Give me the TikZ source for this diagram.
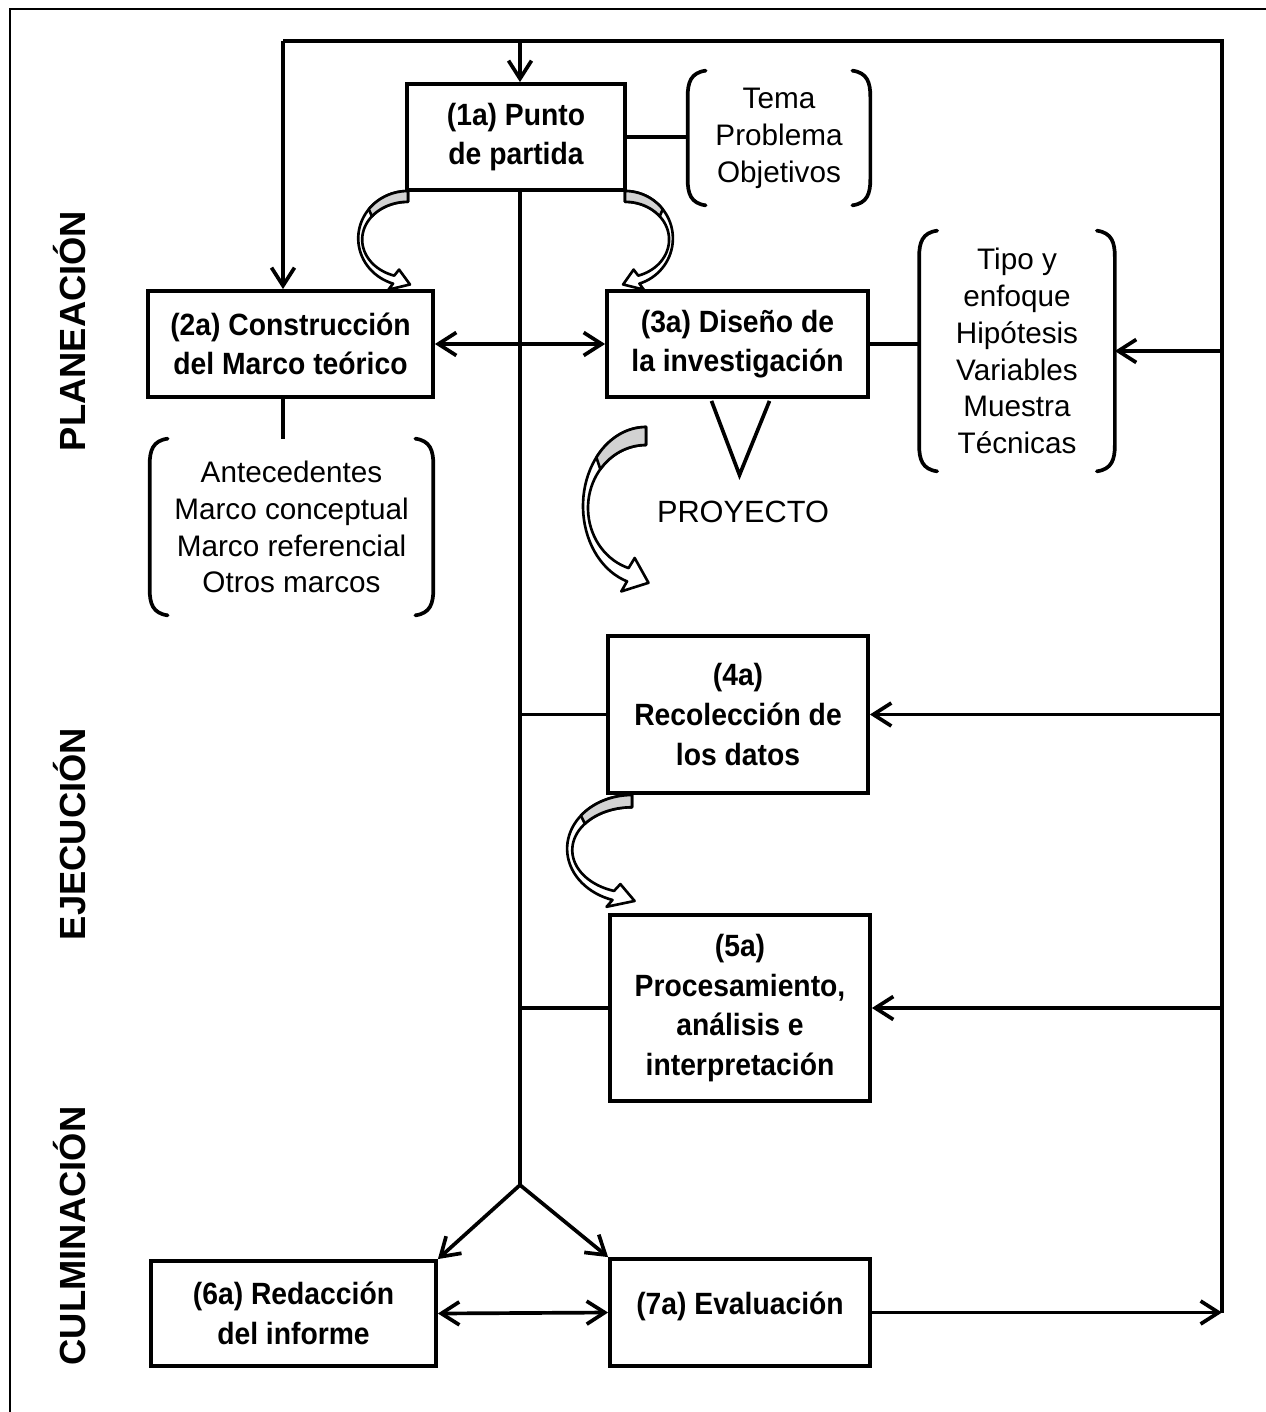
\documentclass[tikz,border=0pt]{standalone}
\usepackage{fontspec}
\setmainfont{Liberation Sans}
\newfontfamily\boxfont[FakeStretch=0.92]{Liberation Sans}
\usetikzlibrary{arrows.meta,calc}

\newcommand\ribbon[4]{%
\begin{scope}[shift={(#1,#2)},xscale=#3,yscale=#4]
\filldraw[fill=white,line width=1.5pt,line join=round] (0,0) -- plot[domain=270:107.5,samples=40,variable=\t] ({63*cos(\t)},{79+79*sin(\t)}) -- (-24.7,164.4) -- (2.5,155.8) -- (-11.3,131) -- plot[domain=107.5:270,samples=40,variable=\t] ({58*cos(\t)},{81+63*sin(\t)}) -- cycle;
\filldraw[fill=gray!35,line width=1.5pt,line join=round] plot[domain=270:218,samples=20,variable=\t] ({63*cos(\t)},{79+79*sin(\t)}) -- plot[domain=218:270,samples=20,variable=\t] ({58*cos(\t)},{81+63*sin(\t)}) -- cycle;
\end{scope}}

\newcommand\drawparens[1]{%
\draw[paren] ($(#1.north west)+(18,0)$) .. controls ($(#1.north west)+(3,2)$) and ($(#1.north west)+(0,12)$) .. ($(#1.north west)+(0,26)$) -- ($(#1.south west)+(0,-26)$) .. controls ($(#1.south west)+(0,-12)$) and ($(#1.south west)+(3,-2)$) .. ($(#1.south west)+(18,0)$);
\draw[paren] ($(#1.north east)+(-18,0)$) .. controls ($(#1.north east)+(-3,2)$) and ($(#1.north east)+(0,12)$) .. ($(#1.north east)+(0,26)$) -- ($(#1.south east)+(0,-26)$) .. controls ($(#1.south east)+(0,-12)$) and ($(#1.south east)+(-3,-2)$) .. ($(#1.south east)+(-18,0)$);}

\tikzset{
  stepbox/.style={draw,line width=2.2pt,inner sep=0pt,align=center,fill=white,
    font={\boxfont\bfseries\fontsize{17.5pt}{22.5pt}\selectfont}},
  grouptext/.style={inner sep=0pt,align=center,
    font={\fontsize{16.9pt}{21pt}\selectfont}},
  paren/.style={line width=2.1pt,line cap=round},
  conn/.style={line width=2.1pt},
  arr/.style={conn,-{Straight Barb[length=3.6mm,width=4.6mm,line width=2.1pt]}},
  darr/.style={conn,{Straight Barb[length=3.6mm,width=4.6mm,line width=2.1pt]}-{Straight Barb[length=3.6mm,width=4.6mm,line width=2.1pt]}},
  phase/.style={rotate=90,inner sep=0pt,font={\bfseries\fontsize{20.7pt}{24pt}\selectfont}}
}

\begin{document}
\begin{tikzpicture}[x=0.02cm,y=-0.02cm]
\useasboundingbox (0,0) rectangle (1266,1412);
\fill[white] (0,0) rectangle (1266,1412);
% frame
\draw[line width=1pt] (10,1450) -- (10,9) -- (1300,9);

% phase labels
\node[phase] (lp) at (70,331) {PLANEACIÓN};
\node[phase] (le) at (70,834) {EJECUCIÓN};
\node[phase] (lc) at (70,1236) {CULMINACIÓN};

% boxes
\node[stepbox,minimum width=4.36cm,minimum height=2.12cm] (n1) at (516,137) {(1a) Punto\\de partida};
\node[stepbox,minimum width=5.7cm,minimum height=2.12cm] (n2) at (290.5,344) {(2a) Construcción\\del Marco teórico};
\node[stepbox,minimum width=5.22cm,minimum height=2.12cm] (n3) at (737.5,344) {(3a) Diseño de\\la investigación};
\node[stepbox,minimum width=5.2cm,minimum height=3.14cm] (n4) at (738,714.5) {(4a)\\Recolección de\\los datos};
\node[stepbox,minimum width=5.2cm,minimum height=3.72cm] (n5) at (740,1008) {(5a)\\Procesamiento,\\análisis e\\interpretación};
\node[stepbox,minimum width=5.7cm,minimum height=2.1cm] (n6) at (293.5,1313.5) {(6a) Redacción\\del informe};
\node[stepbox,minimum width=5.2cm,minimum height=2.14cm] (n7) at (740,1312.5) {\raisebox{-0.03cm}[0pt][0pt]{(7a) Evaluación}};

% bracket groups
\node[grouptext,minimum width=3.64cm,minimum height=2.68cm] (g1) at (779,138) {Tema\\Problema\\Objetivos};
\node[grouptext,minimum width=3.9cm,minimum height=4.8cm] (g2) at (1017,351) {Tipo y\\enfoque\\Hipótesis\\Variables\\Muestra\\Técnicas};
\node[grouptext,minimum width=5.66cm,minimum height=3.52cm] (g3) at (291.5,527) {Antecedentes\\Marco conceptual\\Marco referencial\\Otros marcos};
\drawparens{g1}
\drawparens{g2}
\drawparens{g3}

% PROYECTO
\node[inner sep=0pt,font={\fontsize{17.5pt}{21pt}\selectfont}] (proj) at (743,512) {PROYECTO};
\draw[conn,line join=miter] ($(n3.south)+(-26,2)$) -- ($(n3.south)+(2,76)$) -- ($(n3.south)+(32,2)$);

% coordinates of the feedback loop
\coordinate (tl) at (283,41);
\coordinate (tm) at (520,41);
\coordinate (tr) at (1222,41);
\coordinate (br) at (n7.east -| tr);
\coordinate (fork) at (520,1185);

\draw[conn,line join=miter] (br) -- (tr) -- (tl);
\draw[arr] (tl) -- (tl |- n2.north);
\draw[arr] (tm) -- (tm |- n1.north);
\draw[arr] (n7.east) -- (br);
\draw[arr] (tr |- g2.east) -- (g2.east);
\draw[arr] (tr |- n4.east) -- (n4.east);
\draw[arr] (tr |- n5.east) -- (n5.east);

% trunk
\draw[conn] (tm |- n1.south) -- (fork);
\draw[conn] (tm |- n4.west) -- (n4.west);
\draw[conn] (tm |- n5.west) -- (n5.west);
\draw[arr] (fork) -- (n6.north east);
\draw[arr] (fork) -- (n7.north west);

% other connectors
\draw[conn] (n1.east) -- (n1.east -| g1.west);
\draw[conn] (n3.east) -- (n3.east -| g2.west);
\draw[conn] (tl |- n2.south) -- (tl |- g3.north);
\draw[darr] (n2.east) -- (n3.west);
\draw[darr] (n6.east) -- (n7.west);

% curved ribbon arrows
\ribbon{408}{191}{0.79}{0.6}
\ribbon{625}{191}{-0.76}{0.6}
\ribbon{646}{427}{1}{1}
\ribbon{632}{795}{1.03}{0.68}
\end{tikzpicture}
\end{document}
